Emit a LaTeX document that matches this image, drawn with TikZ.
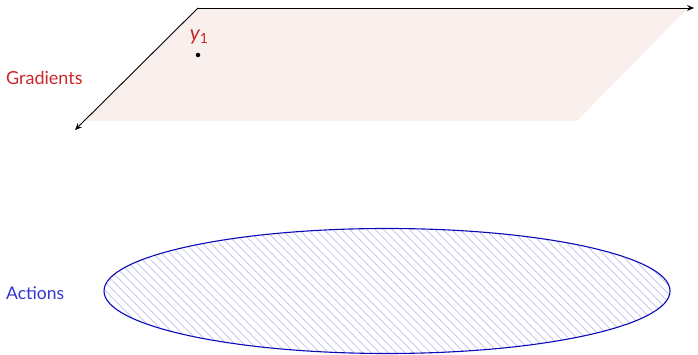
\documentclass[tikz,border=0pt]{standalone}
\usepackage{fontspec}
\setmainfont{Lato}
\usetikzlibrary{patterns.meta,arrows.meta,shapes.geometric}
\definecolor{gradred}{RGB}{200,40,40}
\definecolor{actblue}{RGB}{50,50,215}
\definecolor{ellblue}{RGB}{10,10,185}
\definecolor{planefill}{RGB}{249,240,238}
\definecolor{hatchblue}{RGB}{190,190,240}
\begin{document}
\begin{tikzpicture}[x=1pt,y=1pt,
  axis/.style={draw=black,line width=0.9pt,-{Stealth[length=7pt,width=6pt,inset=2.5pt]}},
  lbl/.style={anchor=west,inner sep=0pt,font=\fontsize{18}{20}\selectfont}]
\useasboundingbox (0,0) rectangle (698,355);
\coordinate (O) at (198,347);
\coordinate (xend) at (694,347);
\coordinate (yend) at (75,225);
\fill[planefill] (198,347) -- (688,347) -- (577,234) -- (85,234) -- cycle;
\draw[axis] (O) -- (xend);
\draw[axis] (O) -- (yend);
\node[circle,fill=black,inner sep=0pt,minimum size=4.5pt] (pt) at (198,300) {};
\node[text=gradred,inner sep=0pt,font=\fontsize{21}{23}\selectfont] (ylab) at (199,318) {\itshape y\raisebox{-3pt}{\upshape\fontsize{14}{16}\selectfont 1}};
\node[lbl,text=gradred] (grad) at (6,277) {Gradients};
\node[ellipse,draw=ellblue,line width=1.1pt,minimum width=566pt,minimum height=125pt,inner sep=0pt,
  pattern={Lines[angle=-45,distance=6pt,line width=0.7pt]},pattern color=hatchblue] (act) at (387,64) {};
\node[lbl,text=actblue,font=\fontsize{17.5}{20}\selectfont] (actl) at (6,62) {Actions};
\end{tikzpicture}
\end{document}
